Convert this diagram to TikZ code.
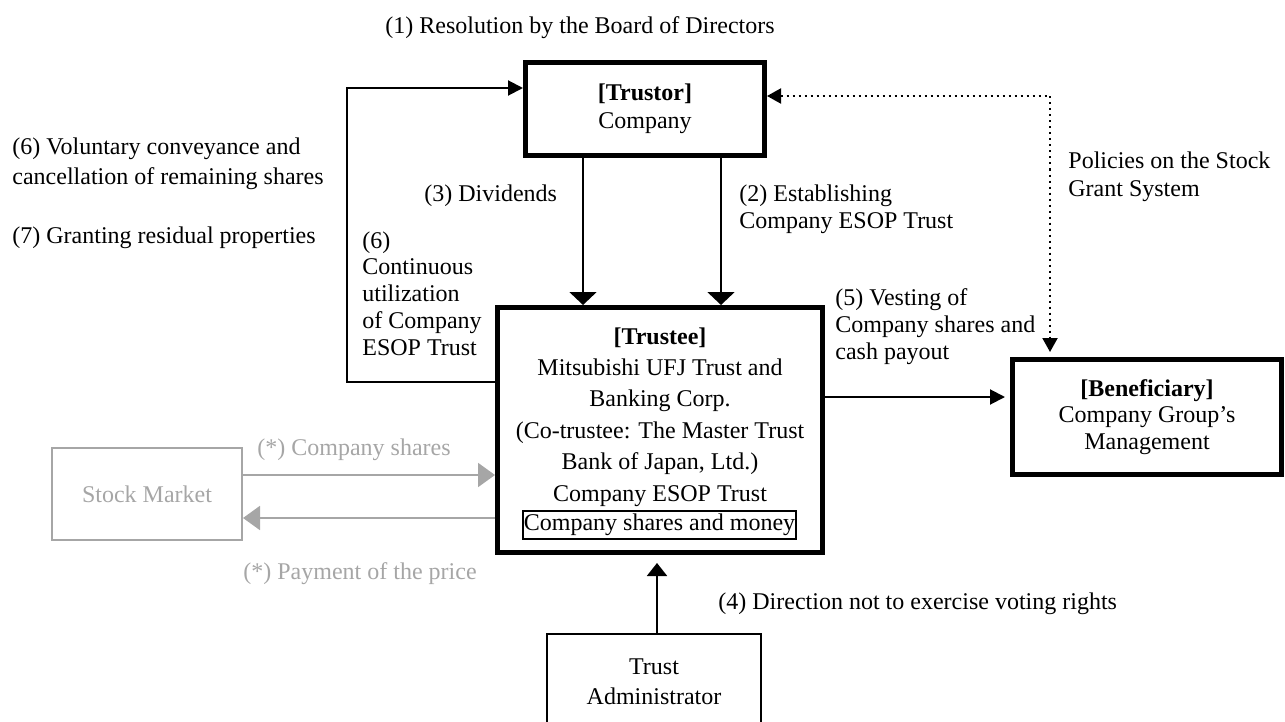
\documentclass[tikz,border=0pt]{standalone}
\usepackage{fontspec}
\setmainfont{Liberation Serif}
\usetikzlibrary{arrows.meta}
\definecolor{mktgray}{RGB}{166,166,166}
\begin{document}
\begin{tikzpicture}[x=0.5pt,y=-0.5pt,
    font=\fontsize{12}{14}\selectfont,
    party/.style={draw,line width=2.5pt,align=center,inner sep=0pt},
    plain/.style={draw,line width=1pt,align=center,inner sep=0pt},
    lbl/.style={anchor=north west,inner sep=0pt,align=left},
    flow/.style={line width=1pt,-{Triangle[width=7.5pt,length=7.5pt]}},
    feed/.style={line width=1pt,-{Triangle[width=13.5pt,length=6.5pt]}},
    mkt/.style={mktgray,line width=1pt,-{Triangle[width=12pt,length=8.5pt]}}]
  \useasboundingbox (0,0) rectangle (1285,722);
  \draw
    (645,109) node[party,minimum width=119.5pt,minimum height=46.5pt] (trustor){\textbf{[Trustor]}\\Company}
    (660,430) node[party,minimum width=162.5pt,minimum height=122.5pt] (trustee){}
    (660,327) node[anchor=north,inner sep=0pt,align=center,font=\fontsize{12}{15.7}\selectfont] (trusteetxt){\textbf{[Trustee]}\\Mitsubishi UFJ Trust and\\Banking Corp.\\(Co-trustee: The Master Trust\\Bank of Japan, Ltd.)\\Company ESOP Trust}
    (659.5,525) node[plain,inner sep=0.5pt,minimum width=136.5pt,minimum height=14pt] (holding){Company shares and money}
    (1147,417) node[party,minimum width=134.5pt,minimum height=57.5pt,font=\fontsize{12}{13.25}\selectfont] (benef){\textbf{[Beneficiary]}\\Company Group’s\\Management}
    (147,494) node[plain,draw=mktgray,text=mktgray,minimum width=95pt,minimum height=46pt] (market){Stock Market}
    (654,681.5) node[plain,minimum width=107pt,minimum height=47.5pt,font=\fontsize{12}{15}\selectfont] (admin){Trust\\Administrator};
  \draw
    (580,16) node[anchor=north,inner sep=0pt] (resol){(1) Resolution by the Board of Directors}
    (12,137) node[lbl,font=\fontsize{12}{15}\selectfont] (convey){(6) Voluntary conveyance and\\cancellation of remaining shares}
    (12,226) node[lbl] (residual){(7) Granting residual properties}
    (362,231) node[lbl,font=\fontsize{12}{13.4}\selectfont] (reuse){(6)\\Continuous\\utilization\\of Company\\ESOP Trust}
    (424,184) node[lbl] (divid){(3) Dividends}
    (739,184) node[lbl,font=\fontsize{12}{13.5}\selectfont] (establ){(2) Establishing\\Company ESOP Trust}
    (1068,151) node[lbl] (policy){Policies on the Stock\\Grant System}
    (835,288) node[lbl,font=\fontsize{12}{13.5}\selectfont] (vesting){(5) Vesting of\\Company shares and\\cash payout}
    (257,438) node[lbl,text=mktgray] (buyshares){(*) Company shares}
    (243,562) node[lbl,text=mktgray] (payprice){(*) Payment of the price}
    (718,592) node[lbl] (direction){(4) Direction not to exercise voting rights};
  \coordinate (loop) at (347,88);
  \begin{scope}[flow]
    \draw ([yshift=24pt]trustee.west) -| (loop) -- ([yshift=10.5pt]trustor.west);
    \draw[feed] ([xshift=-31pt]trustor.south) -- ([xshift=-31pt]trustor.south |- trustee.north);
    \draw[feed] ([xshift=38pt]trustor.south) -- ([xshift=38pt]trustor.south |- trustee.north);
    \draw[shorten >=2.5pt] ([yshift=16.5pt]trustee.east) -- ([yshift=16.5pt]trustee.east -| benef.west);
    \draw[-{Triangle[width=10pt,length=6.5pt]},shorten >=4pt] ([xshift=1.5pt]admin.north) -- ([xshift=1.5pt]admin.north |- trustee.south);
    \draw[dotted,{Triangle[width=7.5pt,length=7pt]}-{Triangle[width=7.5pt,length=7pt]},shorten >=2.5pt] ([yshift=6.5pt]trustor.east) -| ([xshift=-48.5pt]benef.north);
  \end{scope}
  \begin{scope}[mkt]
    \draw ([yshift=9.5pt]market.east) -- ([yshift=9.5pt]market.east -| trustee.west);
    \draw ([yshift=-12pt]market.east -| trustee.west) -- ([yshift=-12pt]market.east);
  \end{scope}
\end{tikzpicture}
\end{document}
